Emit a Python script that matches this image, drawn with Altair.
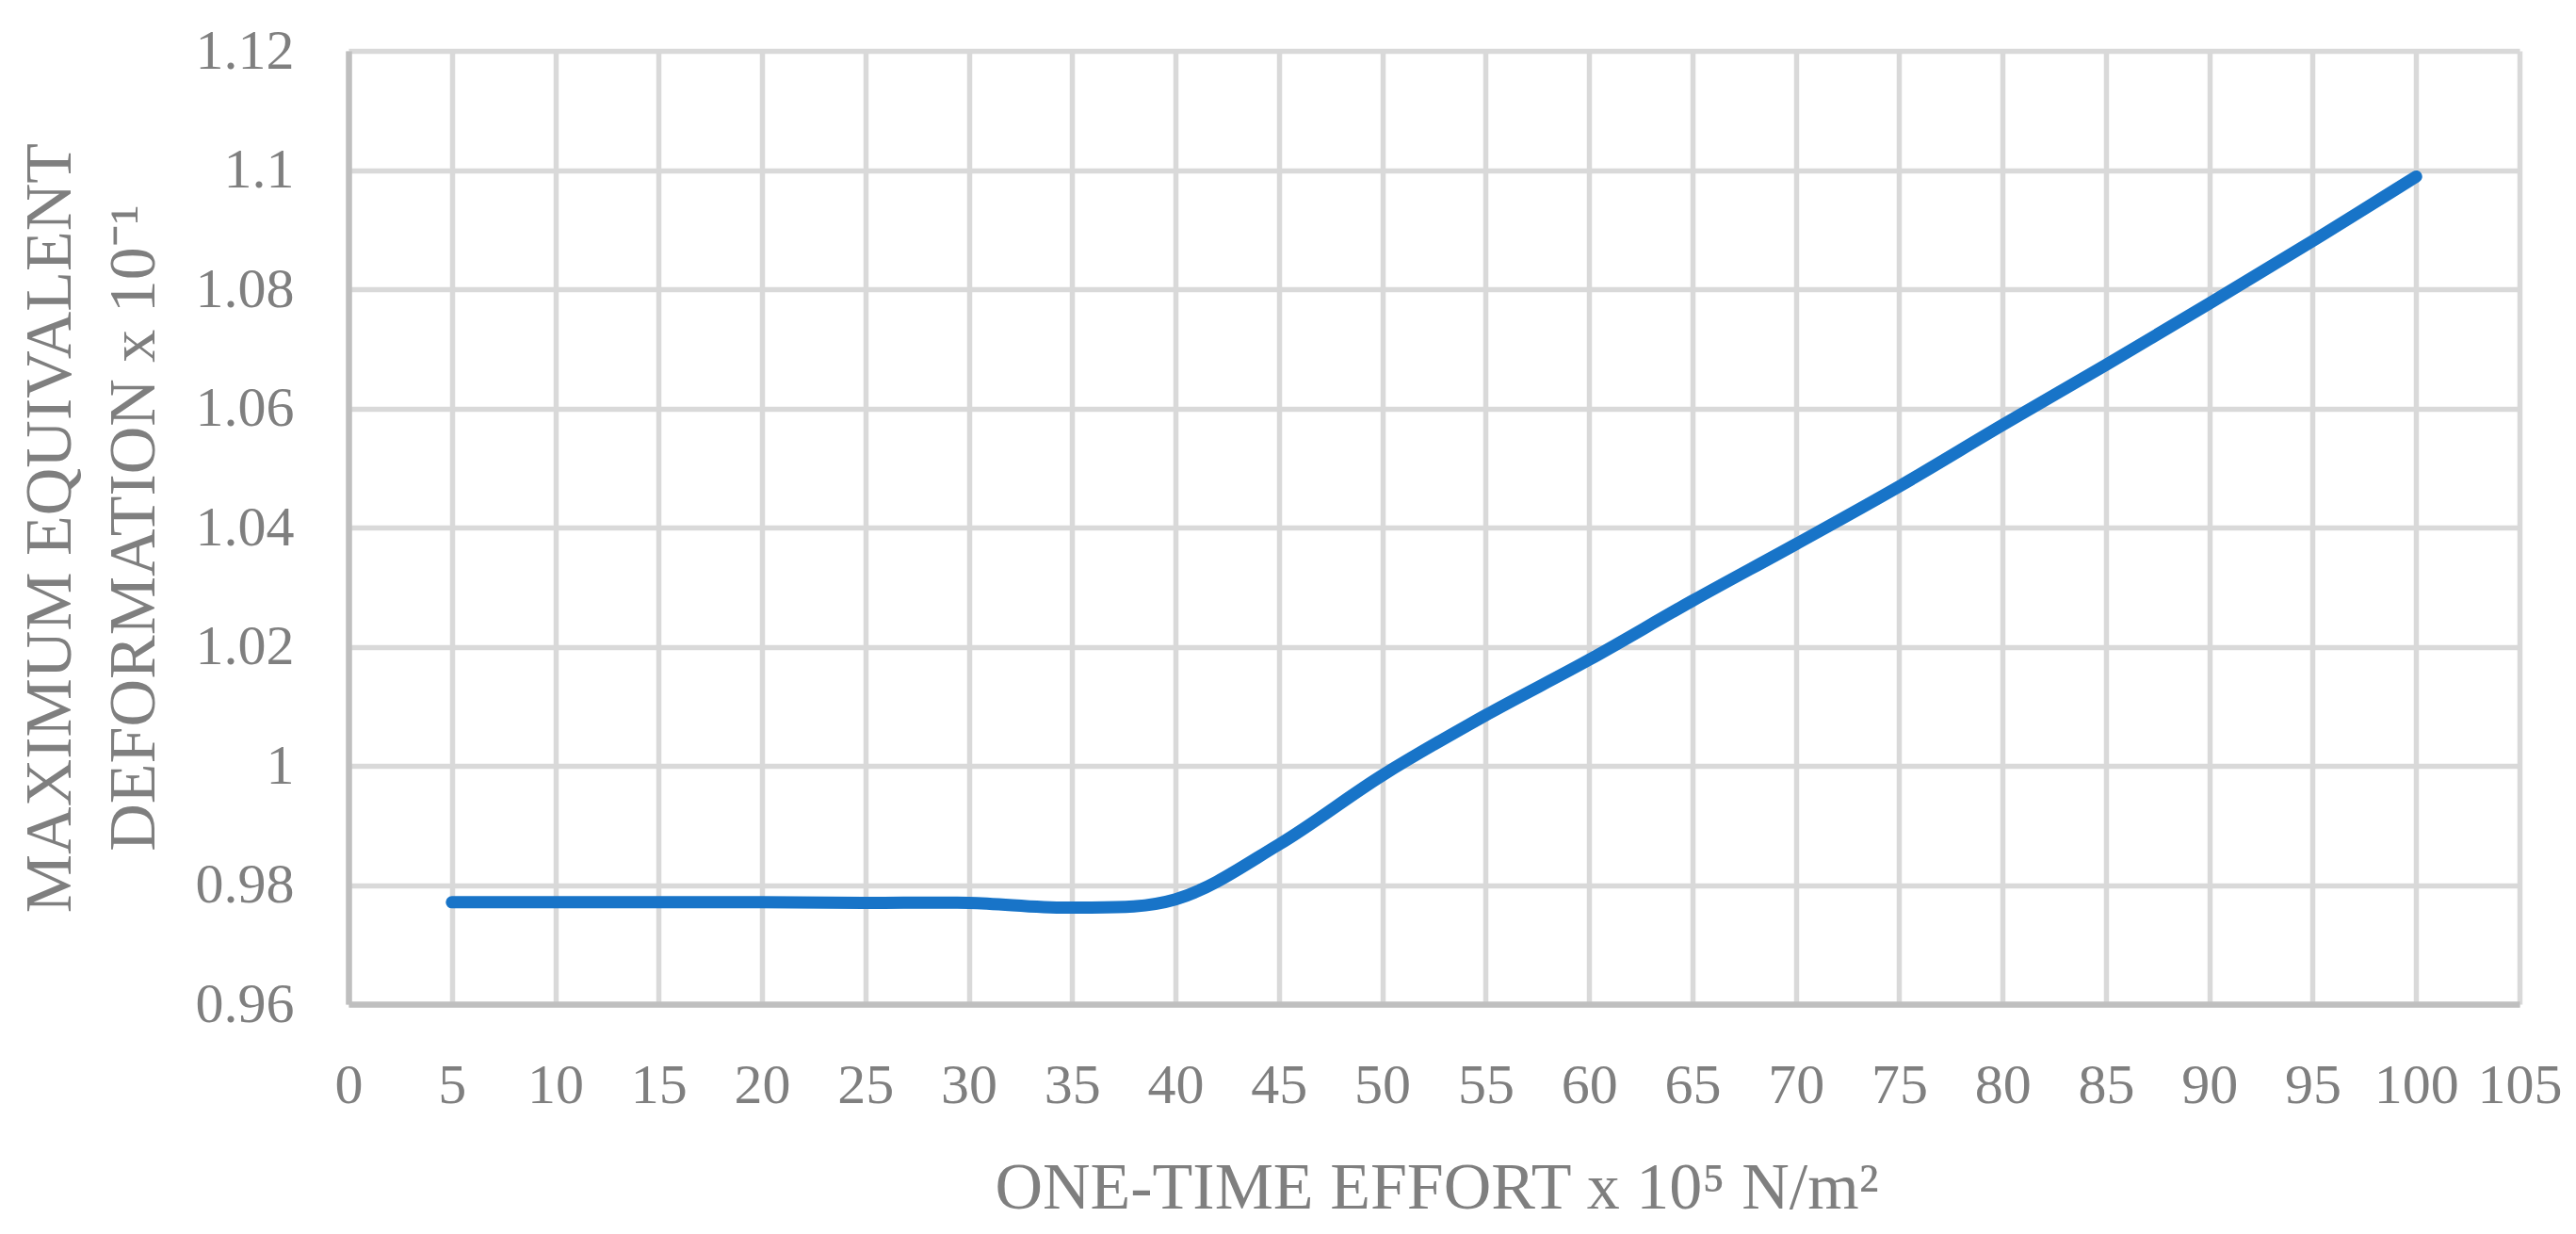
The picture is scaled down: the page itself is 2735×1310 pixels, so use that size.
import altair as alt
import pandas as pd

# Data
effort = [5, 10, 15, 20, 25, 30, 35, 40, 45, 50, 55, 60, 65, 70, 75, 80, 85, 90, 95, 100]
deformation = [0.9771, 0.9771, 0.9771, 0.9771, 0.9770, 0.9770, 0.9762, 0.9776, 0.9868, 0.9984,
               1.0085, 1.0178, 1.0277, 1.0372, 1.0469, 1.0572, 1.0673, 1.0776, 1.0881, 1.0989]

x_ticks = list(range(0, 110, 5))
y_ticks = [0.96, 0.98, 1.0, 1.02, 1.04, 1.06, 1.08, 1.1, 1.12]

x_title = "ONE-TIME EFFORT x 10\u2075 N/m\u00b2"
y_title = ["MAXIMUM EQUIVALENT", "DEFORMATION x 10\u207b\u00b9"]

df = pd.DataFrame({"effort": effort, "deformation": deformation})

FONT = "Liberation Serif"
TEXT = "#7f7f7f"

chart = (
    alt.Chart(df)
    .mark_line(interpolate="catmull-rom", color="#1874c8", strokeWidth=13, strokeCap="round", strokeJoin="round")
    .encode(
        x=alt.X(
            "effort:Q",
            scale=alt.Scale(domain=[0, 105], nice=False, zero=False),
            axis=alt.Axis(
                values=x_ticks,
                title=x_title,
                labelFont=FONT,
                labelFontSize=60,
                labelColor=TEXT,
                labelPadding=104,
                labelBaseline="alphabetic",
                labelFlush=False,
                labelOverlap=False,
                ticks=False,
                tickSize=0,
                grid=True,
                gridColor="#d9d9d9",
                gridWidth=5.5,
                domain=True,
                domainColor="#bfbfbf",
                domainWidth=6.5,
                titleFont=FONT,
                titleFontSize=70,
                titleFontWeight="normal",
                titleColor=TEXT,
                titleX=1155,
                titleY=216,
                titleAlign="center",
                titleBaseline="alphabetic",
                titleAngle=0,
            ),
        ),
        y=alt.Y(
            "deformation:Q",
            scale=alt.Scale(domain=[0.96, 1.12], nice=False, zero=False),
            axis=alt.Axis(
                values=y_ticks,
                format="~g",
                title=y_title,
                labelFont=FONT,
                labelFontSize=60,
                labelColor=TEXT,
                labelPadding=58,
                labelFlush=False,
                labelOverlap=False,
                ticks=False,
                tickSize=0,
                grid=True,
                gridColor="#d9d9d9",
                gridWidth=5.5,
                domain=True,
                domainColor="#bfbfbf",
                domainWidth=6.5,
                titleFont=FONT,
                titleFontSize=70,
                titleFontWeight="normal",
                titleColor=TEXT,
                titleAngle=270,
                titleX=-296,
                titleY=506,
                titleAlign="center",
                titleBaseline="alphabetic",
                titleLineHeight=89,
            ),
        ),
    )
    .properties(
        width=2305,
        height=1012,
        autosize=alt.AutoSizeParams(type="none"),
        padding={"left": 362, "top": 46, "right": 50, "bottom": 230},
        background="white",
    )
    .configure_view(stroke=None)
)

chart.save("out.html", embed_options={"renderer": "svg", "actions": False})
